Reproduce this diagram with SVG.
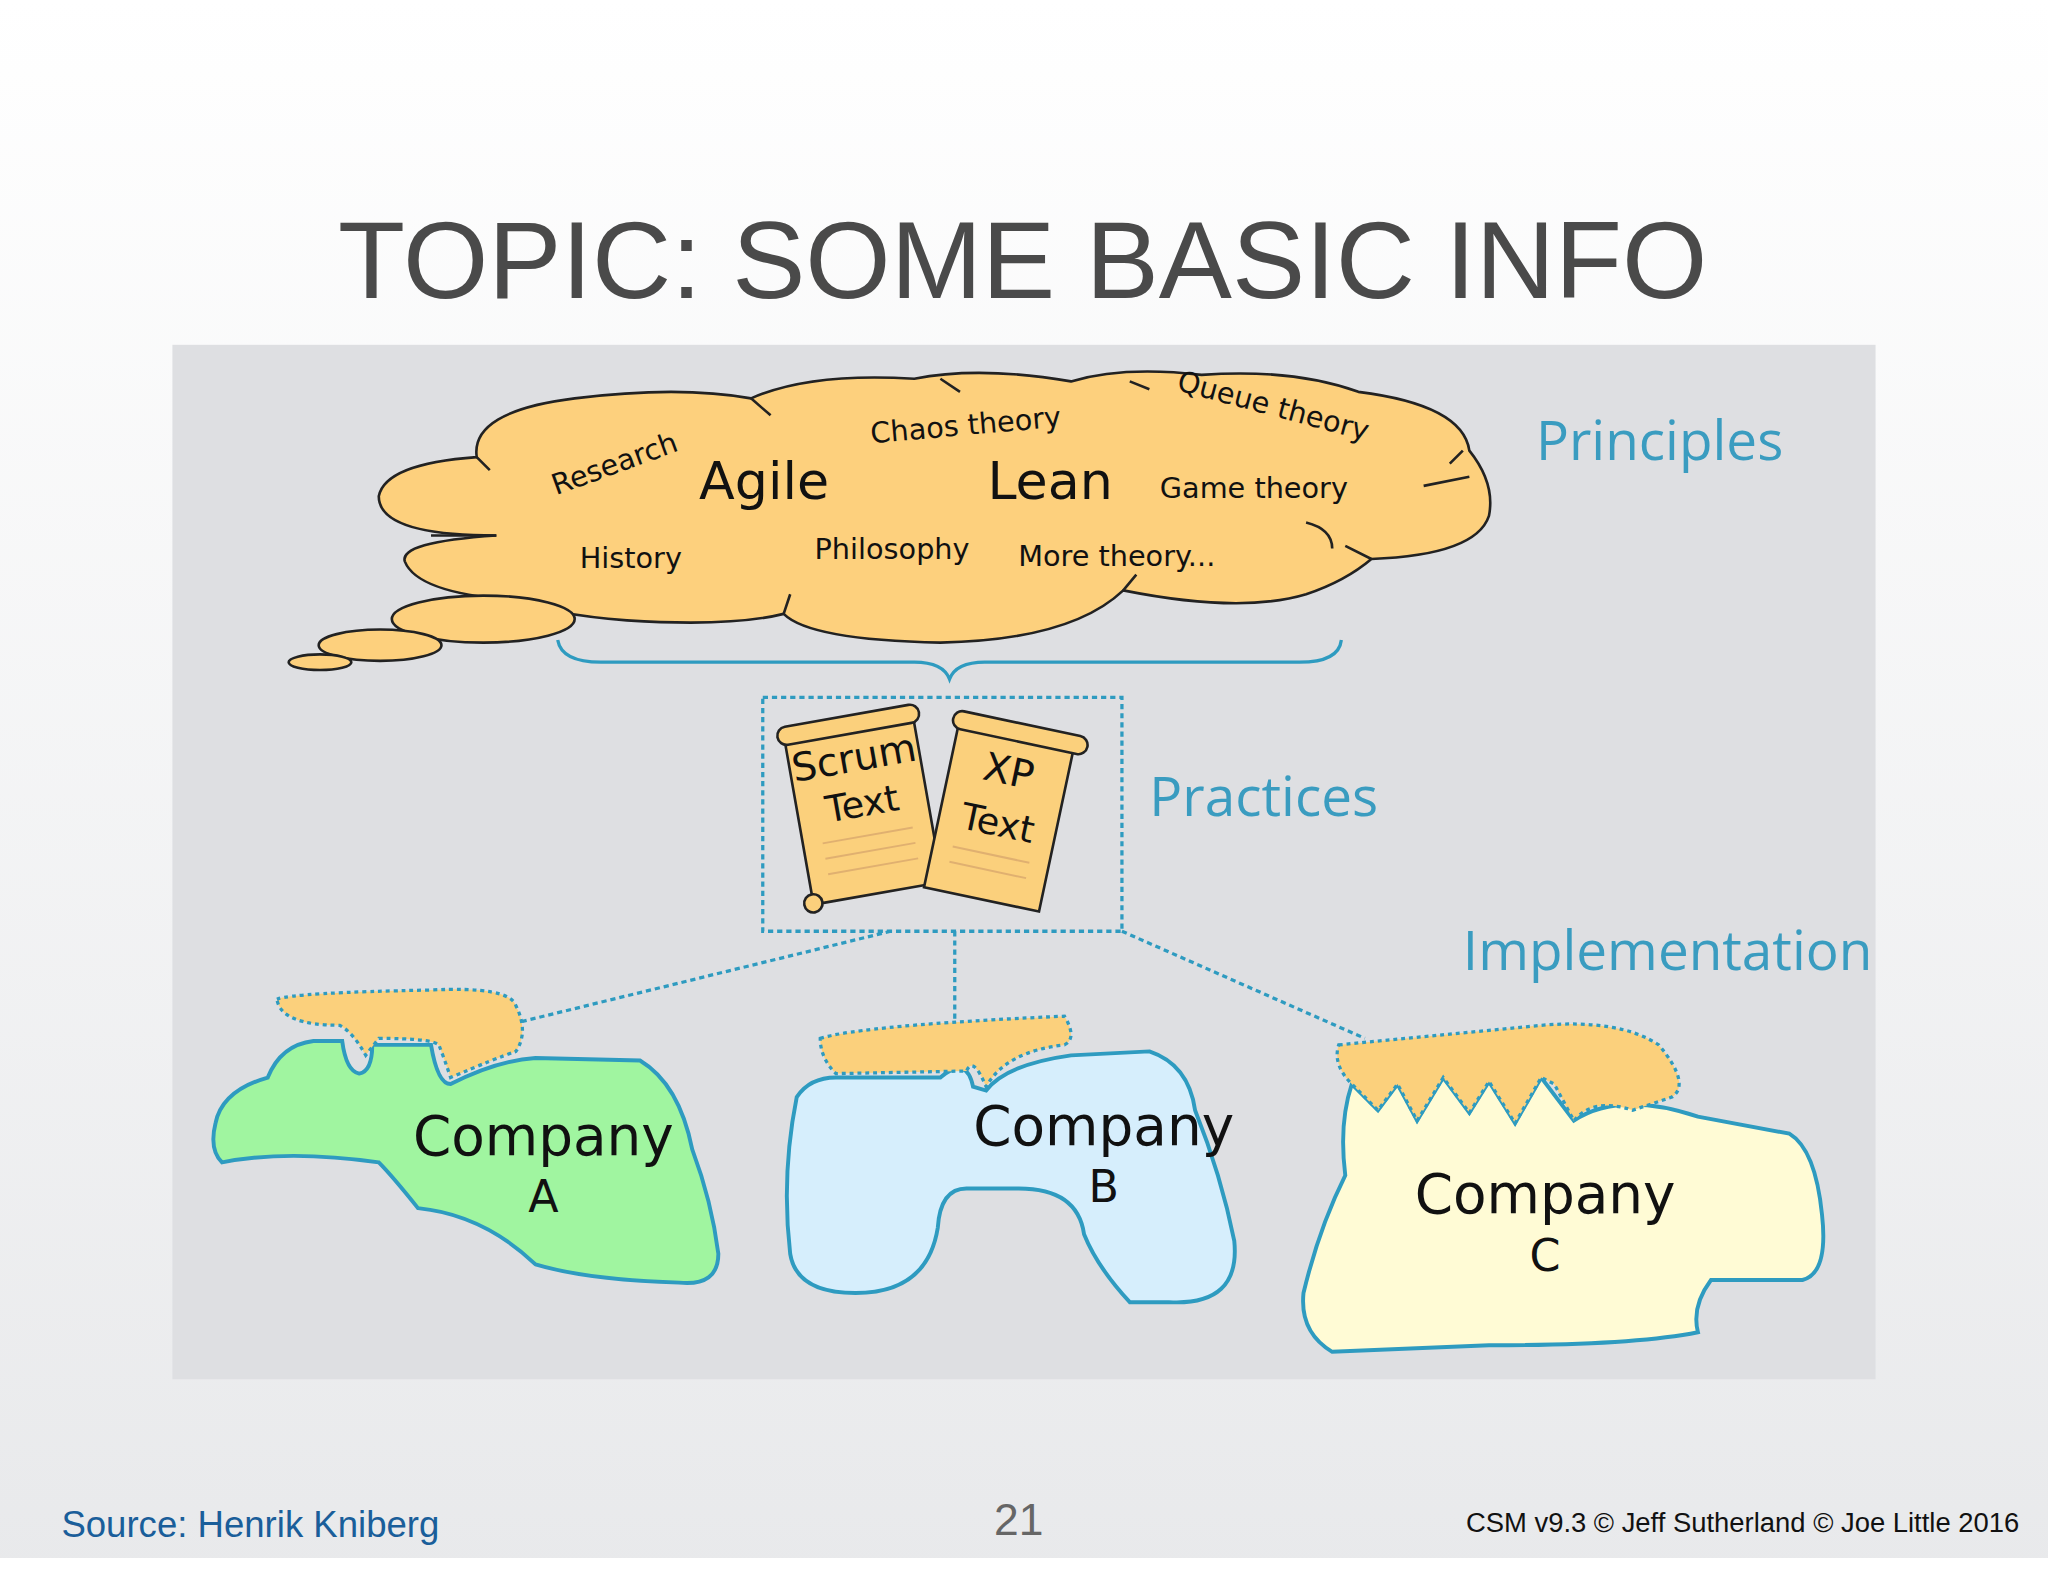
<svg xmlns="http://www.w3.org/2000/svg" width="2048" height="1582" viewBox="0 0 2048 1582">
<defs>
<linearGradient id="bg" x1="0" y1="0" x2="0" y2="1"><stop offset="0" stop-color="#ffffff"/><stop offset="1" stop-color="#e8e9eb"/></linearGradient>
<style>
.s{font-family:"Liberation Sans",Arial,sans-serif}
.c{font-family:"DejaVu Sans",sans-serif;fill:#111}
.lab{font-family:"Open Sans","Liberation Sans",sans-serif;fill:#3a9cc0;font-size:42px}
.imp{fill:#fbd07c;stroke:#2e9bc0;stroke-width:2.5;stroke-dasharray:3 3}
.co{stroke:#2e9bc0;stroke-width:3}
.con{fill:none;stroke:#2e9bc0;stroke-width:2.5;stroke-dasharray:4 3}
.scroll{fill:#fbd07c;stroke:#222;stroke-width:2}
</style>
</defs>
<rect width="2048" height="1582" fill="url(#bg)"/>
<rect y="1558" width="2048" height="24" fill="#ffffff"/>
<g transform="scale(1.3061)">
<text class="s" x="783" y="228" font-size="84" fill="#4a4a4a" text-anchor="middle">TOPIC: SOME BASIC INFO</text>
<rect x="132" y="264" width="1304" height="792" fill="#dedfe2"/>
<g id="cloud">
<path d="M380,410 Q290,410 290,380 Q295,355 365,350 Q360,315 440,305 Q520,295 575,305 Q620,285 700,290 Q750,280 820,292 Q860,280 920,287 Q990,282 1040,300 Q1120,310 1125,345 Q1145,370 1140,395 Q1130,425 1050,428 Q1030,445 1000,455 Q950,470 860,452 Q820,490 720,492 Q620,490 600,470 Q560,480 480,475 Q420,470 400,460 Q320,455 310,430 Q305,415 380,410 Z" fill="#fdd07d" stroke="#222" stroke-width="2"/>
<path d="M380,410 L330,410 M365,350 L375,360 M575,305 L590,318 M720,290 L735,300 M865,292 L880,298 M1120,345 L1110,355 M1125,365 L1090,372 M1050,428 L1030,418 M600,470 L605,455 M860,452 L870,440 M1000,400 Q1020,405 1020,420" fill="none" stroke="#222" stroke-width="2"/>
<ellipse cx="370" cy="474" rx="70" ry="18" fill="#fdd07d" stroke="#222" stroke-width="2"/>
<ellipse cx="291" cy="494" rx="47" ry="12" fill="#fdd07d" stroke="#222" stroke-width="2"/>
<ellipse cx="245" cy="507" rx="24" ry="6" fill="#fdd07d" stroke="#222" stroke-width="2"/>
<g class="c" font-size="22" text-anchor="middle">
<text transform="translate(473,362) rotate(-20)">Research</text>
<text x="585" y="382" font-size="40">Agile</text>
<text transform="translate(740,333) rotate(-5)">Chaos theory</text>
<text x="804" y="382" font-size="40">Lean</text>
<text transform="translate(973,318) rotate(15)">Queue theory</text>
<text x="960" y="381">Game theory</text>
<text x="483" y="435">History</text>
<text x="683" y="428">Philosophy</text>
<text x="855" y="433">More theory...</text>
</g>
</g>
<text class="lab" x="1176" y="352">Principles</text>
<path d="M427,490 Q430,507 460,507 L700,507 Q722,507 727,520 Q732,507 754,507 L995,507 Q1025,507 1027,490" fill="none" stroke="#2e9bc0" stroke-width="2.5"/>
<g id="practices">
<rect x="584" y="534" width="275" height="179" fill="none" stroke="#2e9bc0" stroke-width="2.5" stroke-dasharray="4 3"/>
<g transform="rotate(-10 660 615)">
<rect x="610" y="555" width="100" height="130" class="scroll"/>
<rect x="605" y="547" width="110" height="14" rx="7" class="scroll"/>
<circle cx="610" cy="684" r="7" class="scroll"/>
<text class="c" x="660" y="590" font-size="30" text-anchor="middle">Scrum</text>
<text class="c" x="660" y="625" font-size="28" text-anchor="middle">Text</text>
<path d="M625,640 H695 M625,652 H695 M625,664 H695" stroke="#e0b070" stroke-width="1.5"/>
</g>
<g transform="rotate(12 765 625)">
<rect x="720" y="560" width="90" height="130" class="scroll"/>
<rect x="715" y="552" width="105" height="14" rx="7" class="scroll"/>
<text class="c" x="765" y="600" font-size="30" text-anchor="middle">XP</text>
<text class="c" x="765" y="640" font-size="28" text-anchor="middle">Text</text>
<path d="M735,655 H795 M735,667 H795" stroke="#e0b070" stroke-width="1.5"/>
</g>
</g>
<text class="lab" x="880" y="625">Practices</text>
<text class="lab" x="1120" y="743">Implementation</text>
<g id="connectors">
<path class="con" d="M682,713 L400,782"/>
<path class="con" d="M731,713 L731,780"/>
<path class="con" d="M859,713 L1045,795"/>
</g>
<g id="companyA">
<path class="co" fill="#a0f5a0" d="M165,860 Q170,835 205,825 Q215,800 240,797 L262,797 Q265,820 275,822 Q285,820 285,800 L330,800 Q335,830 345,830 Q380,812 410,810 L490,812 Q520,830 530,880 Q545,920 550,960 Q550,985 520,982 Q450,980 410,968 Q370,930 320,925 Q300,900 290,890 Q220,880 170,890 Q160,880 165,860 Z"/>
<path class="imp" d="M212,765 Q225,760 330,758 Q390,755 395,770 Q405,790 395,805 Q380,810 345,825 Q340,810 336,800 Q330,795 290,795 L280,808 Q270,790 260,785 Q215,785 212,765 Z"/>
<text class="c" x="416" y="884" font-size="42" text-anchor="middle">Company</text>
<text class="c" x="416" y="928" font-size="34" text-anchor="middle">A</text>
</g>
<g id="companyB">
<path class="co" fill="#d6eefc" d="M610,840 Q620,825 640,825 L720,825 Q740,808 745,832 L755,835 Q770,815 820,808 L880,805 Q910,815 915,850 Q935,900 945,950 Q950,1000 895,997 L865,997 Q840,970 830,945 Q825,910 780,910 L740,910 Q720,910 718,940 Q710,990 655,990 Q610,990 605,960 Q598,900 610,840 Z"/>
<path class="imp" d="M628,795 Q660,785 815,778 Q825,795 815,800 Q770,805 755,832 Q745,808 740,820 L640,822 Q628,810 628,795 Z"/>
<text class="c" x="845" y="877" font-size="42" text-anchor="middle">Company</text>
<text class="c" x="845" y="920" font-size="34" text-anchor="middle">B</text>
</g>
<g id="companyC">
<path class="co" fill="#fffbd5" d="M1035,830 L1055,850 L1070,830 L1085,858 L1105,825 L1125,852 L1140,828 L1160,860 L1180,825 L1205,858 Q1240,835 1300,855 L1370,868 Q1390,880 1395,930 Q1400,975 1380,980 L1310,980 Q1295,1000 1300,1020 Q1250,1030 1140,1030 L1020,1035 Q995,1020 998,990 Q1010,940 1030,900 Q1025,860 1035,830 Z"/>
<path class="imp" d="M1025,800 L1180,785 Q1240,780 1270,800 Q1295,830 1280,840 L1250,850 Q1220,840 1205,858 L1190,830 L1180,825 L1160,860 L1140,828 L1125,852 L1105,825 L1085,858 L1070,830 L1055,850 L1035,830 Q1020,815 1025,800 Z"/>
<text class="c" x="1183" y="929" font-size="42" text-anchor="middle">Company</text>
<text class="c" x="1183" y="973" font-size="34" text-anchor="middle">C</text>
</g>
<text class="s" x="47" y="1177" font-size="28" fill="#1a5e9a">Source: Henrik Kniberg</text>
<text class="s" x="780" y="1175" font-size="34" fill="#666" text-anchor="middle" font-weight="300">21</text>
<text class="s" x="1546" y="1173" font-size="21" fill="#111" text-anchor="end">CSM v9.3 © Jeff Sutherland © Joe Little 2016</text>
</g>
</svg>
